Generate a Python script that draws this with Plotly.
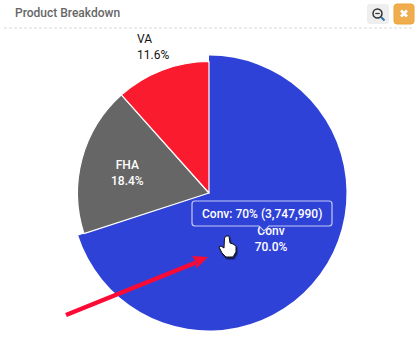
import plotly.graph_objects as go

categories = ["Conv", "FHA", "VA"]
percent_values = [70.0, 18.4, 11.6]
loan_counts = {"Conv": "3,747,990"}
slice_colors = ["#2F42D8", "#666666", "#FB1B2E"]
title_text = "Product Breakdown"

W, H = 417, 362
px = lambda x: x / W
py = lambda y: 1 - y / H


def dom(cx, cy, r):
    return dict(x=[px(cx - r), px(cx + r)], y=[py(cy + r), py(cy - r)])


def path(points, close=True):
    s = "M" + " L".join(f"{px(x):.5f},{py(y):.5f}" for x, y in points)
    return s + (" Z" if close else "")


CLEAR = "rgba(0,0,0,0)"
fig = go.Figure()
# hovered (enlarged) slice
fig.add_trace(go.Pie(labels=categories, values=percent_values, domain=dom(209, 193, 137.5),
                     sort=False, direction="clockwise", rotation=0, textinfo="none",
                     hoverinfo="skip", showlegend=False,
                     marker=dict(colors=[slice_colors[0], CLEAR, CLEAR], line=dict(width=0))))
# remaining slices
fig.add_trace(go.Pie(labels=categories, values=percent_values, domain=dom(209, 193, 131.5),
                     sort=False, direction="clockwise", rotation=0, textinfo="none",
                     hoverinfo="skip", showlegend=False,
                     marker=dict(colors=[CLEAR, slice_colors[1], slice_colors[2]],
                                 line=dict(width=1.2, color=["rgba(0,0,0,0)", "#FFFFFF", "#FFFFFF"]))))

shapes = []
# header rule
shapes.append(dict(type="line", xref="paper", yref="paper", x0=px(4), x1=px(413), y0=py(28), y1=py(28),
                   line=dict(color="#D9D9D9", width=1, dash="3px,2px")))
# buttons
def rrect(x0, y0, x1, y1, r):
    return (f"M{px(x0+r)},{py(y0)} L{px(x1-r)},{py(y0)} Q{px(x1)},{py(y0)} {px(x1)},{py(y0+r)} "
            f"L{px(x1)},{py(y1-r)} Q{px(x1)},{py(y1)} {px(x1-r)},{py(y1)} L{px(x0+r)},{py(y1)} "
            f"Q{px(x0)},{py(y1)} {px(x0)},{py(y1-r)} L{px(x0)},{py(y0+r)} Q{px(x0)},{py(y0)} {px(x0+r)},{py(y0)} Z")
shapes.append(dict(type="path", xref="paper", yref="paper", path=rrect(367, 4, 389, 24, 3),
                   fillcolor="#EEEEEE", line=dict(width=0)))
shapes.append(dict(type="path", xref="paper", yref="paper", path=rrect(394, 4, 414, 24, 3),
                   fillcolor="#F0AD4E", line=dict(color="#EEA236", width=1)))
# magnifier
shapes.append(dict(type="circle", xref="paper", yref="paper", x0=px(373), x1=px(382), y0=py(18), y1=py(9),
                   fillcolor=CLEAR, line=dict(color="#333333", width=1.5)))
shapes.append(dict(type="line", xref="paper", yref="paper", x0=px(381), x1=px(384.5), y0=py(17), y1=py(20.5),
                   line=dict(color="#2F6DA8", width=2)))
shapes.append(dict(type="line", xref="paper", yref="paper", x0=px(375.3), x1=px(379.7), y0=py(13.5), y1=py(13.5),
                   line=dict(color="#333333", width=1.2)))
# close cross
shapes.append(dict(type="line", xref="paper", yref="paper", x0=px(401), x1=px(407), y0=py(10.5), y1=py(16.5),
                   line=dict(color="#FFFFFF", width=2.6)))
shapes.append(dict(type="line", xref="paper", yref="paper", x0=px(407), x1=px(401), y0=py(10.5), y1=py(16.5),
                   line=dict(color="#FFFFFF", width=2.6)))
# Conv data label (under the tooltip)
shapes.append(dict(type="rect", xref="paper", yref="paper", x0=px(241), x1=px(301), y0=py(250), y1=py(226),
                   fillcolor=CLEAR, line=dict(width=0),
                   label=dict(text=f"{categories[0]}<br>{percent_values[0]:.1f}%",
                              textposition="middle center",
                              font=dict(family="Roboto", size=12, color="#FFFFFF", weight=500))))
# tooltip
box = (f"M{px(195)},{py(201)} L{px(329)},{py(201)} Q{px(332)},{py(201)} {px(332)},{py(204)} "
       f"L{px(332)},{py(223)} Q{px(332)},{py(226)} {px(329)},{py(226)} "
       f"L{px(269)},{py(226)} L{px(264)},{py(231)} L{px(259)},{py(226)} "
       f"L{px(195)},{py(226)} Q{px(192)},{py(226)} {px(192)},{py(223)} "
       f"L{px(192)},{py(204)} Q{px(192)},{py(201)} {px(195)},{py(201)} Z")
shapes.append(dict(type="path", xref="paper", yref="paper", path=box, fillcolor="#2F42D8",
                   line=dict(color="#C5CAF3", width=1.2)))
# red arrow
shapes.append(dict(type="line", xref="paper", yref="paper", x0=px(66), x1=px(196), y0=py(315), y1=py(262.5),
                   line=dict(color="#FB0A35", width=4.5)))
shapes.append(dict(type="path", xref="paper", yref="paper",
                   path=path([(208, 257), (192, 256), (197, 263), (196, 269)]),
                   fillcolor="#FB0A35", line=dict(width=0)))
# hand cursor
hand = [(226, 236), (229, 236), (230, 243), (233, 244), (236, 246), (236, 252), (233, 257), (226, 257),
        (222, 253), (219, 247), (221, 246), (224, 248), (224.5, 238)]
shapes.append(dict(type="path", xref="paper", yref="paper", path=path([(x + 1, y + 2) for x, y in hand]),
                   fillcolor="rgba(0,0,0,0.45)", line=dict(color="rgba(0,0,0,0.25)", width=2)))
shapes.append(dict(type="path", xref="paper", yref="paper", path=path(hand),
                   fillcolor="#FFFFFF", line=dict(color="#111111", width=1)))

def note(text, x, y, color, size=12, anchor="center", family="Roboto", weight=500):
    return dict(text=text, x=px(x), y=py(y), xref="paper", yref="paper", showarrow=False,
                xanchor=anchor, yanchor="middle", align="left" if anchor == "left" else "center",
                font=dict(family=family, size=size, color=color, weight=weight))

annotations = [
    note(title_text, 13, 13, "#666666", 12, "left"),
    note(f"{categories[2]}<br>{percent_values[2]:.1f}%", 135, 47, "#111111", 12, "left", weight=400),
    note(f"{categories[1]}<br>{percent_values[1]:.1f}%", 128, 172.5, "#FFFFFF", 12),
    note(f"{categories[0]}: {percent_values[0]:.0f}% ({loan_counts[categories[0]]})", 262, 213.5, "#FFFFFF", 12),
]

fig.update_layout(width=W, height=H, margin=dict(l=0, r=0, t=0, b=0), paper_bgcolor="#FFFFFF",
                  plot_bgcolor="#FFFFFF", showlegend=False, shapes=shapes, annotations=annotations)
fig.write_html("out.html", config={"displayModeBar": False},
               post_script="document.body.style.margin='0';document.body.style.overflow='hidden';")
